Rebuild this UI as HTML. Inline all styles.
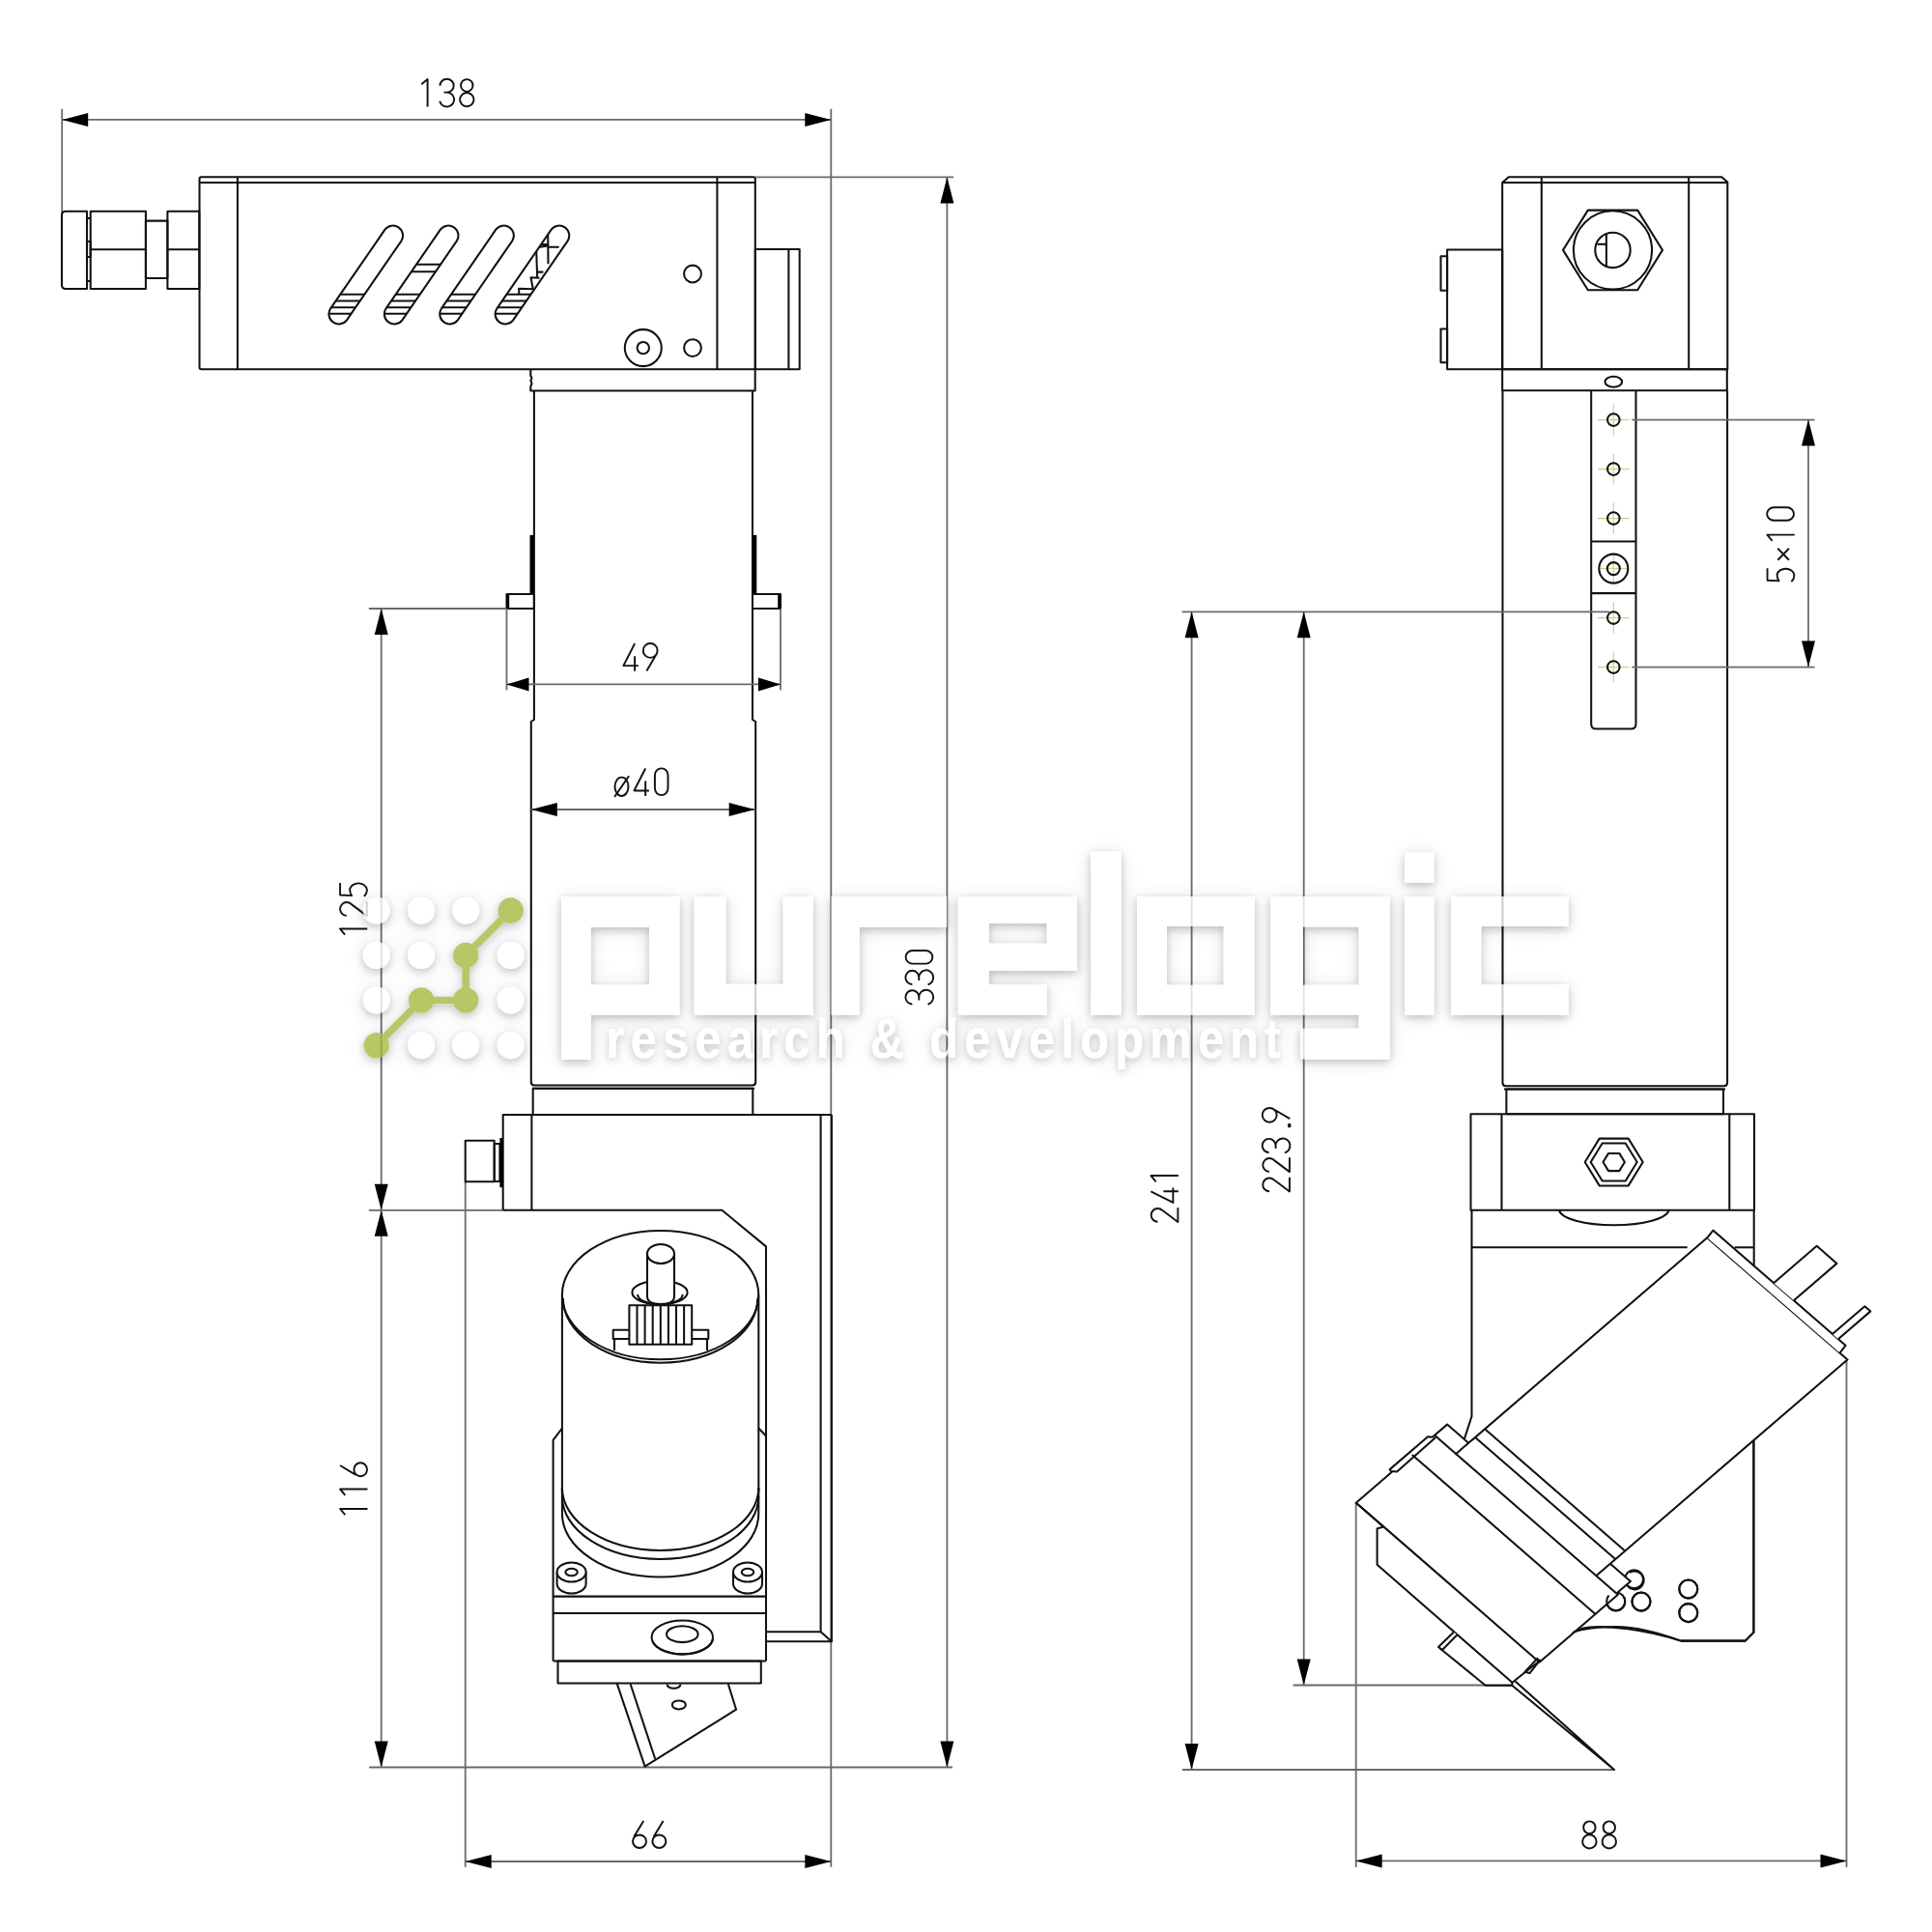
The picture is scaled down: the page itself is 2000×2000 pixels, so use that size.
<!DOCTYPE html>
<html><head><meta charset="utf-8"><title>drawing</title>
<style>
html,body{margin:0;padding:0;background:#fff;}
body{width:2000px;height:2000px;overflow:hidden;font-family:"Liberation Sans",sans-serif;}
svg{display:block}
.m{fill:none;stroke:#111;stroke-width:2.05;stroke-linejoin:round}
.mw{fill:#fff;stroke:#111;stroke-width:2.05;stroke-linejoin:round}
.f{fill:#000;stroke:none}
.d{fill:none;stroke:#6a6a6a;stroke-width:1.8}
.g{fill:none;stroke:#c9d27a;stroke-width:1.1}
.ar{fill:#000;stroke:none}
.t path{fill:none;stroke:#111;stroke-width:1.95;stroke-linecap:butt;stroke-linejoin:round}
</style></head>
<body>
<svg xmlns="http://www.w3.org/2000/svg" width="2000" height="2000" viewBox="0 0 2000 2000">
<defs>
<filter id="sh" x="-15%" y="-40%" width="130%" height="180%">
<feGaussianBlur in="SourceAlpha" stdDeviation="4.5" result="b1"/><feOffset in="b1" dy="3" result="o1"/><feFlood flood-color="#000" flood-opacity="0.26" result="f1"/><feComposite in="f1" in2="o1" operator="in" result="s1"/><feGaussianBlur in="SourceAlpha" stdDeviation="11" result="b2"/><feOffset in="b2" dy="2" result="o2"/><feFlood flood-color="#000" flood-opacity="0.12" result="f2"/><feComposite in="f2" in2="o2" operator="in" result="s2"/><feMerge><feMergeNode in="s2"/><feMergeNode in="s1"/><feMergeNode in="SourceGraphic"/></feMerge>
</filter>
</defs>
<rect x="0" y="0" width="2000" height="2000" fill="#fff"/>
<line class="d" x1="64.2" y1="112.8" x2="64.2" y2="221"/>
<line class="d" x1="860.3" y1="112.8" x2="860.3" y2="1932.8"/>
<line class="d" x1="64.2" y1="123.9" x2="860.3" y2="123.9"/>
<polygon class="ar" points="64.2,123.9 91.2,116.9 91.2,130.9"/>
<polygon class="ar" points="860.3,123.9 833.3,116.9 833.3,130.9"/>
<g class="t" transform="translate(434.5,81.5) scale(1,0.965)"><path transform="translate(0,0)" d="M1.8,6 L8.1,0.6 V30"/><path transform="translate(20.4,0)" d="M0.6,7.4 A7.1,7.2 0 1 1 7.7,14.6 M4.6,14.6 H7.7 A7.6,7.7 0 1 1 0.3,24.2"/><path transform="translate(40.8,0)" d="M14.2,7.2 A6.2,6.6 0 1 1 1.8,7.2 A6.2,6.6 0 1 1 14.2,7.2 M15.2,22.4 A7.2,7.4 0 1 1 0.8,22.4 A7.2,7.4 0 1 1 15.2,22.4"/></g>
<path class="m" d="M90,218.7 H68 Q64,218.7 64,222.7 V295 Q64,299 68,299 H90 Z"/>
<rect class="m" x="93.7" y="218.7" width="57.2" height="80.3"/>
<line class="m" x1="93.7" y1="258.3" x2="150.9" y2="258.3"/>
<rect class="m" x="150.9" y="228.6" width="22.5" height="59.4"/>
<rect class="m" x="173.4" y="218.7" width="32.9" height="80.3"/>
<line class="m" x1="173.4" y1="258.3" x2="206.3" y2="258.3"/>
<polyline class="m" points="90,226 93.7,226"/>
<polyline class="m" points="90,291 93.7,291"/>
<rect class="m" x="90" y="250" width="3.7" height="16"/>
<rect class="m" x="206.5" y="183.2" width="575.3" height="199" rx="2"/>
<line class="m" x1="206.5" y1="189" x2="781.8" y2="189"/>
<line class="m" x1="245.9" y1="183.2" x2="245.9" y2="382.2"/>
<line class="m" x1="742.4" y1="183.2" x2="742.4" y2="382.2"/>
<rect class="m" x="781.8" y="258" width="45.9" height="124.2"/>
<line class="m" x1="816.4" y1="258" x2="816.4" y2="382.2"/>
<circle class="m" cx="717" cy="283.5" r="8.9"/>
<circle class="m" cx="717" cy="360.1" r="8.9"/>
<circle class="m" cx="665.8" cy="360.1" r="19"/>
<circle class="m" cx="665.8" cy="360.1" r="6.2"/>
<path class="m" d="M398.5,237.7 L342,319.7 A10.3,10.3 0 0 0 359,331.3 L415.5,249.3 A10.3,10.3 0 0 0 398.5,237.7 Z"/>
<clipPath id="slot0"><path d="M398.5,237.7 L342,319.7 A10.3,10.3 0 0 0 359,331.3 L415.5,249.3 A10.3,10.3 0 0 0 398.5,237.7 Z"/></clipPath><g clip-path="url(#slot0)">
<line class="m" x1="340.3" y1="304.8" x2="389.3" y2="304.8"/>
<line class="m" x1="335.6" y1="311.5" x2="384.7" y2="311.5"/>
<line class="m" x1="331" y1="318.2" x2="380" y2="318.2"/>
<line class="m" x1="326.5" y1="324.8" x2="375.5" y2="324.8"/>
</g>
<path class="m" d="M455.9,237.7 L399.4,319.7 A10.3,10.3 0 0 0 416.4,331.3 L472.9,249.3 A10.3,10.3 0 0 0 455.9,237.7 Z"/>
<clipPath id="slot1"><path d="M455.9,237.7 L399.4,319.7 A10.3,10.3 0 0 0 416.4,331.3 L472.9,249.3 A10.3,10.3 0 0 0 455.9,237.7 Z"/></clipPath><g clip-path="url(#slot1)">
<line class="m" x1="397.7" y1="304.8" x2="446.7" y2="304.8"/>
<line class="m" x1="393" y1="311.5" x2="442.1" y2="311.5"/>
<line class="m" x1="388.4" y1="318.2" x2="437.4" y2="318.2"/>
<line class="m" x1="383.9" y1="324.8" x2="432.9" y2="324.8"/>
<line class="m" x1="419" y1="273.8" x2="468" y2="273.8"/>
<line class="m" x1="413.9" y1="281.2" x2="462.9" y2="281.2"/>
</g>
<path class="m" d="M513.3,237.7 L456.8,319.7 A10.3,10.3 0 0 0 473.8,331.3 L530.3,249.3 A10.3,10.3 0 0 0 513.3,237.7 Z"/>
<clipPath id="slot2"><path d="M513.3,237.7 L456.8,319.7 A10.3,10.3 0 0 0 473.8,331.3 L530.3,249.3 A10.3,10.3 0 0 0 513.3,237.7 Z"/></clipPath><g clip-path="url(#slot2)">
<line class="m" x1="455.1" y1="304.8" x2="504.1" y2="304.8"/>
<line class="m" x1="450.4" y1="311.5" x2="499.5" y2="311.5"/>
<line class="m" x1="445.8" y1="318.2" x2="494.8" y2="318.2"/>
<line class="m" x1="441.3" y1="324.8" x2="490.3" y2="324.8"/>
</g>
<path class="m" d="M570.7,237.7 L514.2,319.7 A10.3,10.3 0 0 0 531.2,331.3 L587.7,249.3 A10.3,10.3 0 0 0 570.7,237.7 Z"/>
<clipPath id="slot3"><path d="M570.7,237.7 L514.2,319.7 A10.3,10.3 0 0 0 531.2,331.3 L587.7,249.3 A10.3,10.3 0 0 0 570.7,237.7 Z"/></clipPath><g clip-path="url(#slot3)">
<line class="m" x1="512.5" y1="304.8" x2="561.5" y2="304.8"/>
<line class="m" x1="507.8" y1="311.5" x2="556.9" y2="311.5"/>
<line class="m" x1="503.2" y1="318.2" x2="552.2" y2="318.2"/>
<line class="m" x1="498.7" y1="324.8" x2="547.7" y2="324.8"/>
<polyline class="m" points="537.3,304.8 537.2,298.8 551.8,299.3 549.5,287.3 558.5,287.8"/>
<polyline class="m" points="556.2,287.6 555.1,256.2 567.3,254.5"/>
<polyline class="m" points="556.4,281.6 562.4,281.6"/>
<polyline class="m" points="567.2,238.6 567.5,273.3"/>
<polyline class="m" points="558.5,252.9 567,253"/>
<polyline class="m" points="567.3,255.7 578.7,255.7"/>
</g>
<path class="m" d="M549.3,382.2 V389 Q551.5,391 549.3,394 Q551.5,397 549.3,400 V404.5 H781.7 V382.2"/>
<path class="m" d="M552.9,404.5 V745 L549.8,747 V1120 Q549.8,1123.5 553,1123.5 H779 Q782.2,1123.5 782.2,1120 V747 L779,745 V404.5"/>
<line class="m" x1="551" y1="1126.7" x2="781" y2="1126.7"/>
<rect class="m" x="551.7" y="1126.7" width="227.6" height="27.3"/>
<rect class="f" x="548.5" y="553.9" width="4" height="60.7"/>
<rect class="f" x="779.2" y="553.9" width="4.1" height="60.7"/>
<rect class="m" x="524.5" y="615" width="28.4" height="15"/>
<rect class="f" x="524.5" y="615" width="2.7" height="15"/>
<rect class="m" x="779" y="615" width="29" height="15"/>
<rect class="f" x="805.2" y="615" width="2.8" height="15"/>
<line class="d" x1="381.8" y1="630" x2="524.5" y2="630"/>
<line class="d" x1="524.5" y1="630" x2="524.5" y2="714.4"/>
<line class="d" x1="808" y1="630" x2="808" y2="714.4"/>
<line class="d" x1="524.5" y1="708.4" x2="808" y2="708.4"/>
<polygon class="ar" points="524.5,708.4 547.5,701.4 547.5,715.4"/>
<polygon class="ar" points="808,708.4 785,701.4 785,715.4"/>
<g class="t" transform="translate(644.8,665.7) scale(1,0.965)"><path transform="translate(0,0)" d="M12.3,0.5 L0.6,24.3 H16 M12.3,14 V30"/><path transform="translate(20.4,0)" d="M15.4,8 A7.4,7.7 0 1 1 0.6,8 A7.4,7.7 0 1 1 15.4,8 M14.3,12 L4.2,29.8"/></g>
<line class="d" x1="549.8" y1="838" x2="781.7" y2="838"/>
<polygon class="ar" points="549.8,838 576.8,831 576.8,845"/>
<polygon class="ar" points="781.7,838 754.7,831 754.7,845"/>
<g class="t" transform="translate(635.5,795) scale(1,0.965)"><path transform="translate(0,0)" d="M15,20 A7,10 0 1 1 1,20 A7,10 0 1 1 15,20 M15.6,8.6 L0.6,31"/><path transform="translate(20.4,0)" d="M12.3,0.5 L0.6,24.3 H16 M12.3,14 V30"/><path transform="translate(40.8,0)" d="M1.6,7.8 A6.8,7.4 0 0 1 15.2,7.8 V21.8 A6.8,7.4 0 0 1 1.6,21.8 Z"/></g>
<line class="d" x1="394.7" y1="630" x2="394.7" y2="1829.5"/>
<polygon class="ar" points="394.7,630 387.7,657 401.7,657"/>
<polygon class="ar" points="394.7,1252.8 387.7,1225.8 401.7,1225.8"/>
<polygon class="ar" points="394.7,1252.8 387.7,1279.8 401.7,1279.8"/>
<polygon class="ar" points="394.7,1829.5 387.7,1802.5 401.7,1802.5"/>
<line class="d" x1="381.8" y1="1252.8" x2="520.7" y2="1252.8"/>
<g class="t" transform="translate(351.3,969.5) rotate(-90) scale(1,0.965)"><path transform="translate(0,0)" d="M1.8,6 L8.1,0.6 V30"/><path transform="translate(20.4,0)" d="M1.2,7.8 A6.9,7 0 0 1 15,7.8 Q15,10.6 13,13 L1,29.5 H15.8"/><path transform="translate(40.8,0)" d="M14.8,0.8 H2.2 L1.6,13.2 Q4.2,11.2 8.2,11.2 A7.3,9.3 0 0 1 8,29.6 Q3.2,29.6 1,26.4"/></g>
<g class="t" transform="translate(351.5,1570) rotate(-90) scale(1,0.965)"><path transform="translate(0,0)" d="M1.8,6 L8.1,0.6 V30"/><path transform="translate(20.4,0)" d="M1.8,6 L8.1,0.6 V30"/><path transform="translate(40.8,0)" d="M12.2,0.6 L2.2,17.6 M15,22.5 A7,7 0 1 1 1,22.5 A7,7 0 1 1 15,22.5"/></g>
<line class="d" x1="382" y1="1829.5" x2="986" y2="1829.5"/>
<line class="d" x1="781.8" y1="183.4" x2="987.2" y2="183.4"/>
<line class="d" x1="980.4" y1="183.4" x2="980.4" y2="1829.5"/>
<polygon class="ar" points="980.4,183.4 973.4,210.4 987.4,210.4"/>
<polygon class="ar" points="980.4,1829.5 973.4,1802.5 987.4,1802.5"/>
<g class="t" transform="translate(937.2,1040) rotate(-90) scale(1,0.965)"><path transform="translate(0,0)" d="M0.6,7.4 A7.1,7.2 0 1 1 7.7,14.6 M4.6,14.6 H7.7 A7.6,7.7 0 1 1 0.3,24.2"/><path transform="translate(20.4,0)" d="M0.6,7.4 A7.1,7.2 0 1 1 7.7,14.6 M4.6,14.6 H7.7 A7.6,7.7 0 1 1 0.3,24.2"/><path transform="translate(40.8,0)" d="M1.6,7.8 A6.8,7.4 0 0 1 15.2,7.8 V21.8 A6.8,7.4 0 0 1 1.6,21.8 Z"/></g>
<line class="d" x1="481.7" y1="1223.5" x2="481.7" y2="1932.8"/>
<line class="d" x1="481.7" y1="1927" x2="860.3" y2="1927"/>
<polygon class="ar" points="481.7,1927 508.7,1920 508.7,1934"/>
<polygon class="ar" points="860.3,1927 833.3,1920 833.3,1934"/>
<g class="t" transform="translate(654,1884.5) scale(1,0.965)"><path transform="translate(0,0)" d="M12.2,0.6 L2.2,17.6 M15,22.5 A7,7 0 1 1 1,22.5 A7,7 0 1 1 15,22.5"/><path transform="translate(20.4,0)" d="M12.2,0.6 L2.2,17.6 M15,22.5 A7,7 0 1 1 1,22.5 A7,7 0 1 1 15,22.5"/></g>
<polyline class="m" points="520.7,1252.8 520.7,1154 860.9,1154"/>
<line class="m" x1="550.4" y1="1154" x2="550.4" y2="1252.8"/>
<polyline class="m" points="520.7,1252.8 747.4,1252.8 793,1290.4 793,1719.5"/>
<line class="m" x1="849.6" y1="1154" x2="849.6" y2="1689.2"/>
<line class="m" x1="860.9" y1="1154" x2="860.9" y2="1699.3"/>
<polyline class="m" points="792.5,1689.2 849.6,1689.2 860.9,1699.3 792.5,1699.3"/>
<rect class="m" x="481.7" y="1180.7" width="30" height="42.6"/>
<rect class="m" x="511.7" y="1184" width="5.7" height="39"/>
<rect class="f" x="517.4" y="1178" width="3.2" height="51.2"/>
<line class="m" x1="581.9" y1="1340.6" x2="581.9" y2="1545"/>
<line class="m" x1="785.3" y1="1340.6" x2="785.3" y2="1545"/>
<path class="m" d="M581.9,1540 A101.7,65 0 0 0 785.3,1540"/>
<path class="m" d="M581.9,1549 A101.7,65 0 0 0 785.3,1549"/>
<path class="m" d="M581.9,1567 A101.7,65.5 0 0 0 785.3,1567"/>
<line class="m" x1="581.9" y1="1540" x2="581.9" y2="1567"/>
<line class="m" x1="785.3" y1="1540" x2="785.3" y2="1567"/>
<polyline class="m" points="581.9,1478.5 572.6,1490.9 572.6,1719.5"/>
<polyline class="m" points="785.3,1478.5 793,1486.5"/>
<ellipse class="m" cx="683.6" cy="1340.6" rx="101.7" ry="66.7"/>
<path class="m" d="M582.9,1344 A100.7,66.7 0 0 0 784.3,1344"/>
<path class="m" d="M654.4,1338 A28.6,12.3 0 0 0 711.6,1338"/>
<path class="m" d="M660.1,1340 A22.9,10.1 0 0 0 706.7,1340"/>
<path class="m" d="M654.4,1338 A28.6,12.3 0 0 1 711.6,1338"/>
<path class="mw" d="M670,1298 V1342 Q670,1350 684,1350 Q698,1350 698,1342 V1298"/>
<ellipse class="mw" cx="684" cy="1298" rx="14" ry="10"/>
<rect class="mw" x="634.7" y="1376.8" width="98.6" height="9.2"/>
<path class="m" d="M636,1386 V1398 M732,1386 V1398"/>
<rect class="mw" x="651.4" y="1351.3" width="64.8" height="40.5"/>
<line class="m" x1="659.5" y1="1351.3" x2="659.5" y2="1391.8"/>
<line class="m" x1="667.6" y1="1351.3" x2="667.6" y2="1391.8"/>
<line class="m" x1="675.7" y1="1351.3" x2="675.7" y2="1391.8"/>
<line class="m" x1="683.8" y1="1351.3" x2="683.8" y2="1391.8"/>
<line class="m" x1="691.9" y1="1351.3" x2="691.9" y2="1391.8"/>
<line class="m" x1="700" y1="1351.3" x2="700" y2="1391.8"/>
<line class="m" x1="708.1" y1="1351.3" x2="708.1" y2="1391.8"/>
<path class="mw" d="M576.6,1627.5 V1639.5 A15,10 0 0 0 606.6,1639.5 V1627.5"/>
<ellipse class="mw" cx="591.6" cy="1627.5" rx="15" ry="10"/>
<ellipse class="m" cx="591.6" cy="1627.5" rx="6.2" ry="3.7"/>
<path class="mw" d="M759,1627.5 V1639.5 A15,10 0 0 0 789,1639.5 V1627.5"/>
<ellipse class="mw" cx="774" cy="1627.5" rx="15" ry="10"/>
<ellipse class="m" cx="774" cy="1627.5" rx="6.2" ry="3.7"/>
<line class="m" x1="572.6" y1="1652.6" x2="793" y2="1652.6"/>
<line class="m" x1="572.6" y1="1669.9" x2="793" y2="1669.9"/>
<line class="m" x1="572.6" y1="1719.5" x2="793" y2="1719.5"/>
<ellipse class="m" cx="706.3" cy="1694.9" rx="31.7" ry="17.4"/>
<path class="m" d="M676,1700 A31.7,17.4 0 0 0 738,1697"/>
<ellipse class="m" cx="706.3" cy="1691.7" rx="16.3" ry="8.4"/>
<rect class="m" x="577.5" y="1719.5" width="210.3" height="22.9"/>
<polyline class="m" points="638.6,1742.4 667.6,1828.6 762.1,1769.7 753.8,1743.3"/>
<line class="m" x1="652.6" y1="1743.3" x2="678.2" y2="1820.7"/>
<path class="m" d="M690.5,1743.6 A7,4.2 0 0 0 704.5,1743.6"/>
<ellipse class="m" cx="702.8" cy="1764.9" rx="7" ry="4.5"/>
<path class="m" d="M1561.8,183.2 H1782.3 L1788.3,188.6 V382.2 H1555.2 V189 Z"/>
<line class="m" x1="1555.2" y1="189" x2="1787.8" y2="189"/>
<line class="m" x1="1595.8" y1="183.2" x2="1595.8" y2="382.2"/>
<line class="m" x1="1748.2" y1="183.2" x2="1748.2" y2="382.2"/>
<rect class="m" x="1498.1" y="258.5" width="57.1" height="123.7"/>
<rect class="m" x="1491.5" y="265.2" width="6.6" height="35.6"/>
<rect class="m" x="1491.5" y="340.5" width="6.6" height="34.8"/>
<polygon class="m" points="1721,258.9 1695.2,300.2 1643.8,300.2 1618,258.9 1643.8,217.6 1695.2,217.6"/>
<circle class="m" cx="1669.5" cy="258.9" r="40.6"/>
<circle class="m" cx="1669.5" cy="258.9" r="18.2"/>
<line class="m" x1="1662.9" y1="241.2" x2="1662.9" y2="276.6"/>
<line class="m" x1="1653.5" y1="252.8" x2="1662.9" y2="252.8"/>
<rect class="m" x="1555.2" y="382.2" width="232.6" height="22.1"/>
<ellipse class="m" cx="1670.3" cy="395.3" rx="8.8" ry="5.5"/>
<path class="m" d="M1555.5,404.3 V1120.8 Q1555.5,1124.3 1559,1124.3 H1784.6 Q1788.1,1124.3 1788.1,1120.8 V404.3"/>
<line class="m" x1="1557" y1="1127.5" x2="1786" y2="1127.5"/>
<rect class="m" x="1559.4" y="1127.5" width="224.6" height="25.7"/>
<path class="m" d="M1647.2,404.3 V749.4 Q1647.2,754.4 1652.2,754.4 H1688.5 Q1693.5,754.4 1693.5,749.4 V404.3"/>
<line class="m" x1="1647.2" y1="560.4" x2="1693.5" y2="560.4"/>
<line class="m" x1="1647.2" y1="614.1" x2="1693.5" y2="614.1"/>
<line class="g" x1="1654" y1="434.6" x2="1686.6" y2="434.6"/>
<line class="g" x1="1670.3" y1="418.6" x2="1670.3" y2="450.6"/>
<circle class="m" cx="1670.3" cy="434.6" r="6.3"/>
<line class="g" x1="1654" y1="485.6" x2="1686.6" y2="485.6"/>
<line class="g" x1="1670.3" y1="469.6" x2="1670.3" y2="501.6"/>
<circle class="m" cx="1670.3" cy="485.6" r="6.3"/>
<line class="g" x1="1654" y1="536.6" x2="1686.6" y2="536.6"/>
<line class="g" x1="1670.3" y1="520.6" x2="1670.3" y2="552.6"/>
<circle class="m" cx="1670.3" cy="536.6" r="6.3"/>
<line class="g" x1="1654" y1="639.6" x2="1686.6" y2="639.6"/>
<line class="g" x1="1670.3" y1="623.6" x2="1670.3" y2="655.6"/>
<circle class="m" cx="1670.3" cy="639.6" r="6.3"/>
<line class="g" x1="1654" y1="690.6" x2="1686.6" y2="690.6"/>
<line class="g" x1="1670.3" y1="674.6" x2="1670.3" y2="706.6"/>
<circle class="m" cx="1670.3" cy="690.6" r="6.3"/>
<line class="g" x1="1655" y1="588.6" x2="1685.6" y2="588.6"/>
<line class="g" x1="1670.3" y1="572" x2="1670.3" y2="605"/>
<circle class="m" cx="1670.3" cy="588.6" r="15"/>
<circle class="m" cx="1670.3" cy="588.6" r="6.5"/>
<line class="d" x1="1689.3" y1="434.6" x2="1878.5" y2="434.6"/>
<line class="d" x1="1689.3" y1="690.6" x2="1878.5" y2="690.6"/>
<line class="d" x1="1872" y1="434.6" x2="1872" y2="690.6"/>
<polygon class="ar" points="1872,434.6 1865,461.6 1879,461.6"/>
<polygon class="ar" points="1872,690.6 1865,663.6 1879,663.6"/>
<g class="t" transform="translate(1828.8,603) rotate(-90) scale(1,0.965)"><path transform="translate(0,0)" d="M14.8,0.8 H2.2 L1.6,13.2 Q4.2,11.2 8.2,11.2 A7.3,9.3 0 0 1 8,29.6 Q3.2,29.6 1,26.4"/><path transform="translate(21.3,0)" d="M2,12 L14,24 M14,12 L2,24"/><path transform="translate(41.3,0)" d="M1.8,6 L8.1,0.6 V30"/><path transform="translate(62.6,0)" d="M1.6,7.8 A6.8,7.4 0 0 1 15.2,7.8 V21.8 A6.8,7.4 0 0 1 1.6,21.8 Z"/></g>
<line class="d" x1="1223.6" y1="633.3" x2="1666" y2="633.3"/>
<line class="d" x1="1233.6" y1="633.3" x2="1233.6" y2="1832"/>
<line class="d" x1="1349.7" y1="633.3" x2="1349.7" y2="1744.5"/>
<polygon class="ar" points="1233.6,633.3 1226.6,660.3 1240.6,660.3"/>
<polygon class="ar" points="1233.6,1832 1226.6,1805 1240.6,1805"/>
<polygon class="ar" points="1349.7,633.3 1342.7,660.3 1356.7,660.3"/>
<polygon class="ar" points="1349.7,1744.5 1342.7,1717.5 1356.7,1717.5"/>
<line class="d" x1="1338.5" y1="1744.5" x2="1566" y2="1744.5"/>
<line class="d" x1="1223.8" y1="1832" x2="1671" y2="1832"/>
<g class="t" transform="translate(1190.9,1266) rotate(-90) scale(1,0.965)"><path transform="translate(0,0)" d="M1.2,7.8 A6.9,7 0 0 1 15,7.8 Q15,10.6 13,13 L1,29.5 H15.8"/><path transform="translate(20.4,0)" d="M12.3,0.5 L0.6,24.3 H16 M12.3,14 V30"/><path transform="translate(40.8,0)" d="M1.8,6 L8.1,0.6 V30"/></g>
<g class="t" transform="translate(1306.5,1234.5) rotate(-90) scale(1,0.965)"><path transform="translate(0,0)" d="M1.2,7.8 A6.9,7 0 0 1 15,7.8 Q15,10.6 13,13 L1,29.5 H15.8"/><path transform="translate(20.4,0)" d="M1.2,7.8 A6.9,7 0 0 1 15,7.8 Q15,10.6 13,13 L1,29.5 H15.8"/><path transform="translate(40.8,0)" d="M0.6,7.4 A7.1,7.2 0 1 1 7.7,14.6 M4.6,14.6 H7.7 A7.6,7.7 0 1 1 0.3,24.2"/><path transform="translate(61.2,0)" d="M7,28.6 h2.4 v1.4 h-2.4 Z"/><path transform="translate(72.2,0)" d="M15.4,8 A7.4,7.7 0 1 1 0.6,8 A7.4,7.7 0 1 1 15.4,8 M14.3,12 L4.2,29.8"/></g>
<line class="d" x1="1403.7" y1="1555" x2="1403.7" y2="1933"/>
<line class="d" x1="1911.5" y1="1407.7" x2="1911.5" y2="1933"/>
<line class="d" x1="1403.7" y1="1926.4" x2="1911.5" y2="1926.4"/>
<polygon class="ar" points="1403.7,1926.4 1430.7,1919.4 1430.7,1933.4"/>
<polygon class="ar" points="1911.5,1926.4 1884.5,1919.4 1884.5,1933.4"/>
<g class="t" transform="translate(1637.4,1884.8) scale(1,0.965)"><path transform="translate(0,0)" d="M14.2,7.2 A6.2,6.6 0 1 1 1.8,7.2 A6.2,6.6 0 1 1 14.2,7.2 M15.2,22.4 A7.2,7.4 0 1 1 0.8,22.4 A7.2,7.4 0 1 1 15.2,22.4"/><path transform="translate(20.4,0)" d="M14.2,7.2 A6.2,6.6 0 1 1 1.8,7.2 A6.2,6.6 0 1 1 14.2,7.2 M15.2,22.4 A7.2,7.4 0 1 1 0.8,22.4 A7.2,7.4 0 1 1 15.2,22.4"/></g>
<rect class="m" x="1522.5" y="1153.2" width="293.5" height="99.5"/>
<line class="m" x1="1554.5" y1="1153.2" x2="1554.5" y2="1252.7"/>
<line class="m" x1="1790.3" y1="1153.2" x2="1790.3" y2="1252.7"/>
<polygon class="m" points="1700.7,1203 1685.7,1227.4 1655.7,1227.4 1640.7,1203 1655.7,1178.6 1685.7,1178.6"/>
<polygon class="m" points="1694.7,1203 1682.7,1222.5 1658.7,1222.5 1646.7,1203 1658.7,1183.5 1682.7,1183.5"/>
<polygon class="m" points="1681.9,1203 1676.3,1212.1 1665.1,1212.1 1659.5,1203 1665.1,1193.9 1676.3,1193.9"/>
<polyline class="m" points="1523.5,1252.7 1523.5,1466.2 1516,1489.4"/>
<line class="m" x1="1815.7" y1="1252.7" x2="1815.7" y2="1309.8"/>
<path class="m" d="M1614,1252.7 A56.8,16.3 0 0 0 1727.5,1252.7"/>
<line class="m" x1="1523.5" y1="1291.3" x2="1746.7" y2="1291.3"/>
<line class="m" x1="1795.6" y1="1291.3" x2="1815.7" y2="1291.3"/>
<polyline class="m" points="1815.4,1489.9 1815.4,1689.9 1806.7,1698.6 1740,1698.6"/>
<path class="m" d="M1740,1698.6 Q1700,1684 1673,1684 Q1645,1684 1627,1690"/>
<circle class="m" cx="1747.8" cy="1645" r="9.5"/>
<circle class="m" cx="1747.8" cy="1669.6" r="9.5"/>
<circle class="m" cx="1698.8" cy="1658" r="9.5"/>
<circle class="m" cx="1672.8" cy="1658" r="9.5"/>
<circle class="m" cx="1691.6" cy="1634.8" r="9.5"/>
<polygon class="mw" points="1767.3,1281.3 1912.5,1407.5 1666.9,1618.7 1687.9,1637 1673.4,1649.5 1674.9,1650.8 1593.6,1720.7 1403.8,1555.7 1440.6,1524 1438.7,1521.1 1478.1,1487.2 1482.8,1487.8 1498.1,1474.6 1520.2,1493.8"/>
<polyline class="mw" points="1432,1580.6 1425.6,1582.6 1425.6,1619.8 1565.5,1741.8 1577.3,1732.3 1595.2,1718.3"/>
<polyline class="mw" points="1767.3,1281.3 1773.5,1273.7 1910.5,1392.8 1904.5,1400.6"/>
<polyline class="mw" points="1836.1,1328.2 1880.7,1289.8 1901.5,1307.9 1856.9,1346.2"/>
<polyline class="mw" points="1896.9,1381 1930.4,1352.2 1936.4,1357.4 1902.9,1386.2"/>
<polyline class="m" points="1537.1,1479.3 1682.2,1605.5"/>
<polyline class="m" points="1527.1,1487.9 1672.2,1614.1"/>
<polyline class="m" points="1485.1,1485.8 1673.4,1649.5"/>
<polyline class="m" points="1461.8,1505.9 1651.6,1670.9"/>
<polyline class="m" points="1403.8,1555.7 1593.6,1720.7"/>
<polyline class="m" points="1520.2,1493.8 1506.4,1505.7"/>
<polyline class="m" points="1666.9,1618.7 1652.3,1631.2"/>
<polyline class="m" points="1440.2,1523.1 1446.1,1523.5 1486.2,1488.1"/>
<polyline class="mw" points="1505,1689.4 1489,1705 1493,1708 1508.3,1692.5"/>
<polyline class="m" points="1490.5,1706.2 1537.7,1744.7 1565.3,1744.7 1565.5,1741.8"/>
<polygon class="m" points="1591.3,1716.9 1578.6,1730.7 1583.5,1732.1 1593.5,1719.3"/>
<polyline class="m" points="1565.3,1744.7 1671,1832 1568.6,1740.4"/>
<polyline class="m" points="1815.4,1490.9 1815.4,1689.9 1806.7,1698.6 1740,1698.6"/>
<path class="m" d="M1740,1698.6 C1700,1686 1665,1683 1645,1684.5 C1638,1685.5 1632,1687 1627.9,1690.5"/>
<circle class="m" cx="1747.8" cy="1645" r="9.5"/>
<circle class="m" cx="1747.8" cy="1669.6" r="9.5"/>
<circle class="m" cx="1699.1" cy="1658.1" r="9.5"/>
<path class="m" d="M1684.5,1641.5 A9.5,9.5 0 1 0 1687,1628"/>
<path class="m" d="M1665.5,1651.5 A9.5,9.5 0 1 0 1681,1653"/>
<g filter="url(#sh)" opacity="0.8">
<circle cx="389.7" cy="942.5" r="14" fill="#fff"/>
<circle cx="436.1" cy="942.5" r="14" fill="#fff"/>
<circle cx="482.2" cy="942.5" r="14" fill="#fff"/>
<circle cx="389.7" cy="989" r="14" fill="#fff"/>
<circle cx="436.1" cy="989" r="14" fill="#fff"/>
<circle cx="528.7" cy="989" r="14" fill="#fff"/>
<circle cx="389.7" cy="1035.4" r="14" fill="#fff"/>
<circle cx="528.7" cy="1035.4" r="14" fill="#fff"/>
<circle cx="436.1" cy="1082.2" r="14" fill="#fff"/>
<circle cx="482.2" cy="1082.2" r="14" fill="#fff"/>
<circle cx="528.7" cy="1082.2" r="14" fill="#fff"/>
<polyline points="389.7,1082.2 436.1,1035.4 482.2,1035.4 482.2,989 528.7,942.5" fill="none" stroke="#a4bb41" stroke-width="7.5"/>
<circle cx="436.1" cy="1035.4" r="13.2" fill="#a4bb41"/>
<circle cx="482.2" cy="989" r="13.2" fill="#a4bb41"/>
<circle cx="482.2" cy="1035.4" r="13.2" fill="#a4bb41"/>
<circle cx="389.7" cy="1082.2" r="13.2" fill="#a4bb41"/>
<circle cx="528.7" cy="942.5" r="13.2" fill="#a4bb41"/>
<path fill="#fff" fill-rule="evenodd" d="M581,928 H703.5 V1050.7 H611.8 V1097 H581 Z M611.8,960 V1019.6 H672 V960 Z M718.7,928 H751.4 V1018.7 H810.8 V928 H842 V1050.7 H718.7 Z M860.5,928 H980.2 V960 H889.8 V1050.7 H860.5 Z M991.8,928 H1115 V1005 H1024 V1018.9 H1083.8 V1050.8 H991.8 Z M1024,956 V976.8 H1083.8 V956 Z M1129,881.4 H1160.8 V1050.8 H1129 Z M1177,928 H1298.8 V1050.8 H1177 Z M1208,959 V1019.8 H1266.8 V959 Z M1315,928 H1439 V1096.4 H1346 V1064.7 H1406.8 V1050.8 H1315 Z M1348.9,959.6 V1019.8 H1406.8 V959.6 Z M1454,882.6 H1484.7 V913.8 H1454 Z M1454,928 H1484.7 V1050.8 H1454 Z M1502,928 H1623.9 V959 H1533.3 V1018.9 H1623.9 V1050.8 H1502 Z"/>
<text transform="translate(627.5,1095.4) scale(0.84,1)" x="0" y="0" fill="#fff" font-family="Liberation Sans" font-weight="bold" font-size="58" letter-spacing="7.5">research &amp; development</text>
</g>
</svg>
</body></html>
